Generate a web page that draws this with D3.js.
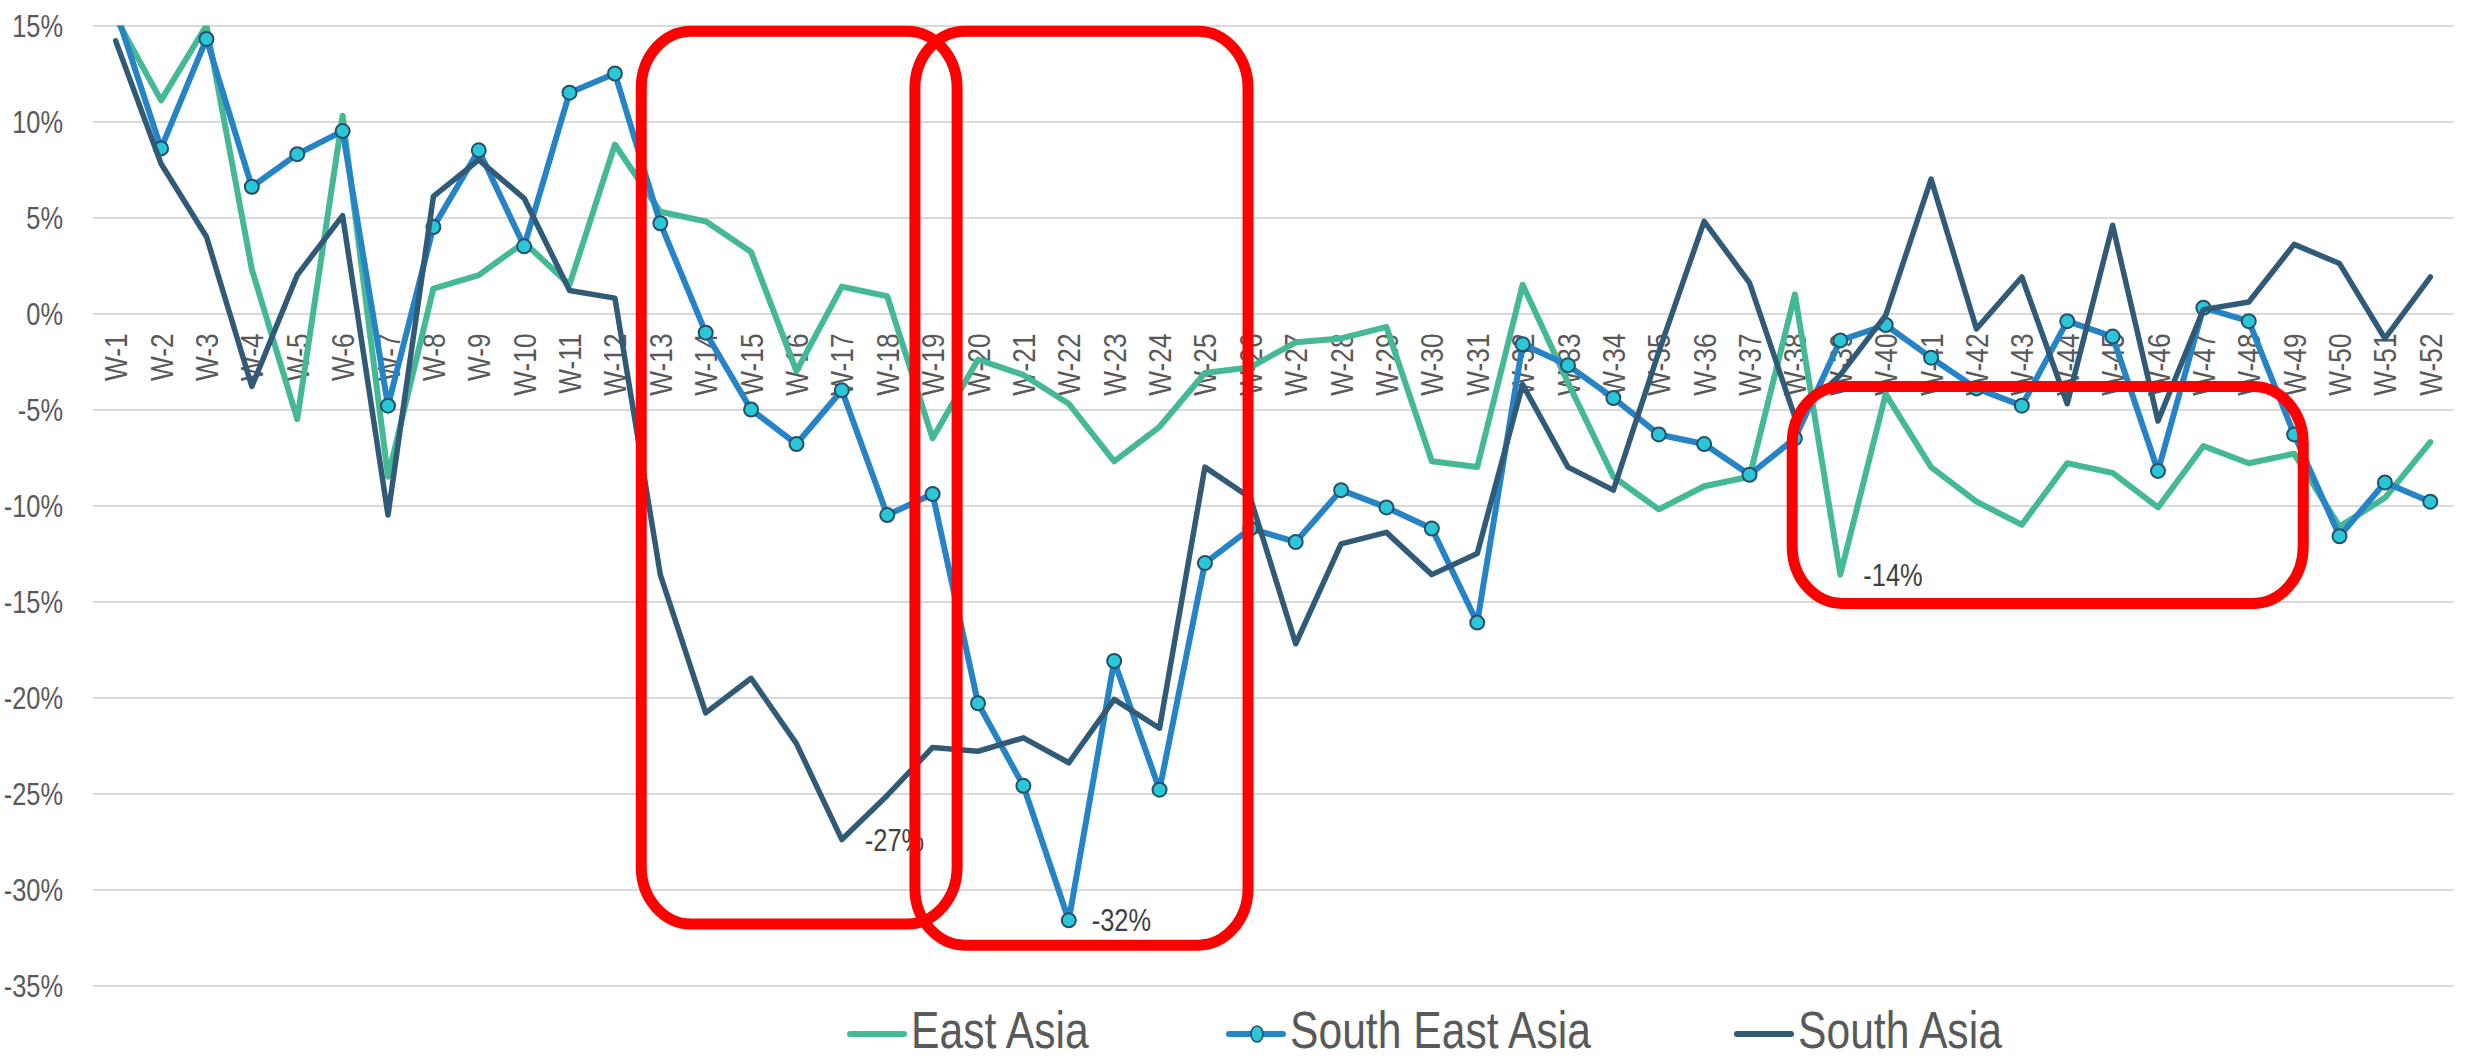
<!DOCTYPE html>
<html>
<head>
<meta charset="utf-8">
<script src="https://cdn.jsdelivr.net/npm/d3@7"></script>
<style>
  html, body { margin: 0; padding: 0; background: #ffffff; }
  svg { display: block; }
  text { font-family: "Liberation Sans", Arial, sans-serif; fill: #595959; }
</style>
</head>
<body>
<svg id="chart" width="2470" height="1061"></svg>
<script>
// Week categories
const weeks = ["W-1","W-2","W-3","W-4","W-5","W-6","W-7","W-8","W-9","W-10",
  "W-11","W-12","W-13","W-14","W-15","W-16","W-17","W-18","W-19","W-20",
  "W-21","W-22","W-23","W-24","W-25","W-26","W-27","W-28","W-29","W-30",
  "W-31","W-32","W-33","W-34","W-35","W-36","W-37","W-38","W-39","W-40",
  "W-41","W-42","W-43","W-44","W-45","W-46","W-47","W-48","W-49","W-50",
  "W-51","W-52"];

// Weekly change, in percent
const eastAsia = [15.4, 11.1, 15.0, 2.3, -5.5, 10.3, -8.5, 1.3, 2.0, 3.7,
  1.5, 8.8, 5.3, 4.8, 3.2, -3.0, 1.4, 0.9, -6.5, -2.4,
  -3.2, -4.7, -7.7, -5.9, -3.1, -2.8, -1.5, -1.3, -0.7, -7.7,
  -8.0, 1.5, -3.6, -8.5, -10.2, -9.0, -8.5, 1.0, -13.6, -4.2,
  -8.0, -9.8, -11.0, -7.8, -8.3, -10.1, -6.9, -7.8, -7.3, -11.1,
  -9.6, -6.7];

const southEastAsia = [15.8, 8.6, 14.3, 6.6, 8.3, 9.5, -4.8, 4.5, 8.5, 3.5,
  11.5, 12.5, 4.7, -1.0, -5.0, -6.8, -4.0, -10.5, -9.4, -20.3,
  -24.6, -31.6, -18.1, -24.8, -13.0, -11.2, -11.9, -9.2, -10.1, -11.2,
  -16.1, -1.6, -2.7, -4.4, -6.3, -6.8, -8.4, -6.5, -1.4, -0.6,
  -2.3, -3.9, -4.8, -0.4, -1.2, -8.2, 0.3, -0.4, -6.3, -11.6,
  -8.8, -9.8];

const southAsia = [14.2, 7.8, 4.0, -3.8, 2.0, 5.1, -10.5, 6.1, 8.0, 6.0,
  1.2, 0.8, -13.6, -20.8, -19.0, -22.4, -27.4, -25.1, -22.6, -22.8,
  -22.1, -23.4, -20.1, -21.6, -8.0, -9.6, -17.2, -12.0, -11.4, -13.6,
  -12.5, -3.7, -8.0, -9.2, -2.0, 4.8, 1.6, -5.4, -3.2, -0.1,
  7.0, -0.8, 1.9, -4.7, 4.6, -5.6, 0.2, 0.6, 3.6, 2.6,
  -1.3, 1.9];

// Value axis ticks
const yTicks = [15, 10, 5, 0, -5, -10, -15, -20, -25, -30, -35];

// Series names (legend order = drawing order)
const seriesNames = ["East Asia", "South East Asia", "South Asia"];

// Callouts: series index and week of the labelled point
const callouts = [
  { series: 2, week: "W-17" },
  { series: 1, week: "W-22" },
  { series: 0, week: "W-39" }
];

// Highlight boxes, expressed in weeks and percent
const highlights = [
  { from: "W-13", to: "W-19", fromShift: -0.42, toShift: 0.54, top: 14.7, bottom: -31.8 },
  { from: "W-19", to: "W-26", fromShift: -0.39, toShift: -0.05, top: 14.7, bottom: -32.9 },
  { from: "W-38", to: "W-49", fromShift: -0.06, toShift: 0.2, top: -3.8, bottom: -15.1 }
];

const seriesValues = [eastAsia, southEastAsia, southAsia];
const seriesStyle = [
  { color: "#45B995", width: 6, markers: false },
  { color: "#2683C6", width: 6, markers: true },
  { color: "#305A76", width: 5.5, markers: false }
];

const svg = d3.select("#chart");
const plot = { left: 93, right: 2453, top: 25.5, bottom: 985.5 };

const x = d3.scaleBand().domain(weeks).range([plot.left, plot.right]);
const y = d3.scaleLinear().domain([-35, 15]).range([plot.bottom, plot.top]);
const cx = w => x(w) + x.bandwidth() / 2;

const narrow = 0.82;
const pct = v => `${v}%`;

// Clip region for the series
svg.append("defs").append("clipPath").attr("id", "plotClip")
  .append("rect")
  .attr("x", plot.left - 20).attr("y", plot.top)
  .attr("width", plot.right - plot.left + 40)
  .attr("height", plot.bottom - plot.top);

// Horizontal gridlines
const yAxis = d3.axisLeft(y).tickValues(yTicks)
  .tickSize(-(plot.right - plot.left)).tickFormat("");
const yg = svg.append("g").attr("transform", `translate(${plot.left},0)`).call(yAxis);
yg.select(".domain").remove();
yg.selectAll(".tick line").attr("stroke", "#D9D9D9").attr("stroke-width", 1.8);

// Value labels
svg.append("g").selectAll("g").data(yTicks).join("g")
  .attr("transform", d => `translate(63,${y(d)}) scale(${narrow},1)`)
  .append("text")
  .attr("text-anchor", "end")
  .attr("dy", "0.36em")
  .style("font-size", "31px")
  .text(pct);

// Week labels, rotated, hanging below the zero line
svg.append("g").selectAll("g").data(weeks).join("g")
  .attr("transform", d => `translate(${cx(d)},${y(0) + 20}) rotate(-90) scale(${narrow},1)`)
  .append("text")
  .attr("text-anchor", "end")
  .attr("dy", "0.36em")
  .style("font-size", "32px")
  .text(d => d);

// Series lines and markers
const line = d3.line()
  .x((d, i) => cx(weeks[i]))
  .y(d => y(d));

const series = svg.append("g").attr("clip-path", "url(#plotClip)");
seriesValues.forEach((vals, si) => {
  const st = seriesStyle[si];
  const g = series.append("g");
  g.append("path")
    .datum(vals)
    .attr("fill", "none")
    .attr("stroke", st.color)
    .attr("stroke-width", st.width)
    .attr("stroke-linejoin", "round")
    .attr("stroke-linecap", "round")
    .attr("d", line);
  if (st.markers) {
    g.selectAll("circle").data(vals).join("circle")
      .attr("cx", (d, i) => cx(weeks[i]))
      .attr("cy", d => y(d))
      .attr("r", 7)
      .attr("fill", "#2BC7D7")
      .attr("stroke", "#24506C")
      .attr("stroke-width", 2);
  }
});

// Point callouts
svg.append("g").selectAll("g").data(callouts).join("g")
  .attr("transform", d => {
    const v = seriesValues[d.series][weeks.indexOf(d.week)];
    return `translate(${cx(d.week) + 23},${y(v)}) scale(${narrow},1)`;
  })
  .append("text")
  .attr("dy", "0.36em")
  .style("font-size", "31px")
  .style("fill", "#404040")
  .text(d => pct(Math.round(seriesValues[d.series][weeks.indexOf(d.week)])));

// Highlight boxes
svg.append("g").selectAll("rect").data(highlights).join("rect")
  .attr("x", d => cx(d.from) + d.fromShift * x.bandwidth())
  .attr("y", d => y(d.top))
  .attr("width", d => (cx(d.to) + d.toShift * x.bandwidth()) - (cx(d.from) + d.fromShift * x.bandwidth()))
  .attr("height", d => y(d.bottom) - y(d.top))
  .attr("rx", 50).attr("ry", 57)
  .attr("fill", "none")
  .attr("stroke", "#FF0000")
  .attr("stroke-width", 11);

// Legend
const legendX = [850, 1229, 1737];
const legendY = 1034;
const lg = svg.append("g").selectAll("g").data(seriesNames).join("g")
  .attr("transform", (d, i) => `translate(${legendX[i]},${legendY})`);
lg.append("line")
  .attr("x1", 0).attr("x2", 54).attr("y1", 0).attr("y2", 0)
  .attr("stroke", (d, i) => seriesStyle[i].color)
  .attr("stroke-width", 6)
  .attr("stroke-linecap", "round");
lg.filter((d, i) => seriesStyle[i].markers)
  .append("ellipse")
  .attr("cx", 28).attr("cy", 0).attr("rx", 6).attr("ry", 8)
  .attr("fill", "#2BC7D7").attr("stroke", "#24506C").attr("stroke-width", 1.6);
lg.append("g")
  .attr("transform", `translate(61,14) scale(${narrow},1)`)
  .append("text")
  .style("font-size", "52px")
  .text(d => d);
</script>
</body>
</html>
